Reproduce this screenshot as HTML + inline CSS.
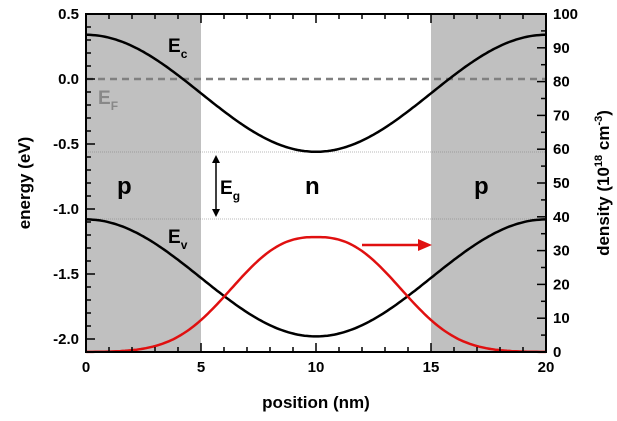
<!DOCTYPE html><html><head><style>body{margin:0;background:#fff}svg text{font-family:"Liberation Sans",Arial,sans-serif;font-weight:bold}</style></head><body>
<svg id="s" width="617" height="416" xmlns="http://www.w3.org/2000/svg">
<rect x="86" y="14" width="115" height="338" fill="#c0c0c0"/>
<rect x="431" y="14" width="115" height="338" fill="#c0c0c0"/>
<line x1="86" y1="152" x2="546" y2="152" stroke="#777" stroke-width="0.6" stroke-dasharray="1,1"/>
<line x1="86" y1="219" x2="546" y2="219" stroke="#777" stroke-width="0.6" stroke-dasharray="1,1"/>
<line x1="86" y1="79" x2="546" y2="79" stroke="#808080" stroke-width="2.5" stroke-dasharray="7,5"/>
<path id="ec" fill="none" stroke="#000" stroke-width="2.5"/>
<path id="ev" fill="none" stroke="#000" stroke-width="2.5"/>
<path id="rd" fill="none" stroke="#e01010" stroke-width="2.5"/>
<g id="ax" stroke="#000" stroke-width="1.5"></g>
<rect x="86" y="14" width="460" height="338" fill="none" stroke="#000" stroke-width="2"/>
<line x1="362" y1="245" x2="422" y2="245" stroke="#e01010" stroke-width="2.5"/>
<polygon points="432,245 418,239 418,251" fill="#e01010"/>
<line x1="216" y1="160" x2="216" y2="212" stroke="#000" stroke-width="1.5"/>
<polygon points="216,155 212,163 220,163" fill="#000"/><polygon points="216,217 212,209 220,209" fill="#000"/>
<text x="168" y="52" font-size="19">E<tspan font-size="12" dy="6">c</tspan></text>
<text x="98" y="104" font-size="19" fill="#888">E<tspan font-size="12" dy="6">F</tspan></text>
<text x="168" y="243" font-size="19">E<tspan font-size="12" dy="6">v</tspan></text>
<text x="220" y="194" font-size="19">E<tspan font-size="12" dy="6">g</tspan></text>
<text x="117" y="194" font-size="24">p</text><text x="474" y="194" font-size="24">p</text><text x="305" y="194" font-size="24">n</text>
<g id="lb" font-size="15"></g>
<text x="316" y="408" font-size="17" text-anchor="middle">position (nm)</text>
<text transform="translate(30,183) rotate(-90)" font-size="17" text-anchor="middle">energy (eV)</text>
<text transform="translate(609,183) rotate(-90)" font-size="17" text-anchor="middle">density (10<tspan font-size="11" dy="-7">18</tspan><tspan dy="7"> cm</tspan><tspan font-size="11" dy="-7">-3</tspan><tspan dy="7">)</tspan></text>
</svg>
<script>
var X=x=>86+x*23,Y=e=>79-e*130,D=d=>352-d*3.38;
var a='',b='',c='';
for(var i=0;i<=200;i++){var x=i/10,e=-0.11+0.45*Math.cos(2*Math.PI*x/20),d=34*Math.exp(-Math.pow(Math.abs(x-10)/4.53,2.5));
a+=(i?'L':'M')+X(x).toFixed(1)+','+Y(e).toFixed(1);b+=(i?'L':'M')+X(x).toFixed(1)+','+Y(e-1.42).toFixed(1);c+=(i?'L':'M')+X(x).toFixed(1)+','+D(d).toFixed(1);}
document.getElementById('ec').setAttribute('d',a);document.getElementById('ev').setAttribute('d',b);document.getElementById('rd').setAttribute('d',c);
var g='',l='';
for(var x=0;x<=20;x++){var L=x%5?5:9;g+='<line x1="'+X(x)+'" y1="352" x2="'+X(x)+'" y2="'+(352-L)+'"/><line x1="'+X(x)+'" y1="14" x2="'+X(x)+'" y2="'+(14+L)+'"/>';if(x%5==0)l+='<text x="'+X(x)+'" y="372" text-anchor="middle">'+x+'</text>';}
for(var k=0;k<=26;k++){var e=0.5-k*0.1,y=Y(e);if(y>352.5)break;var L=k%5?5:9;g+='<line x1="86" y1="'+y+'" x2="'+(86+L)+'" y2="'+y+'"/>';if(k%5==0)l+='<text x="79" y="'+(y+5)+'" text-anchor="end">'+e.toFixed(1).replace('-0.0','0.0')+'</text>';}
for(var d=0;d<=100;d+=5){var y=D(d),L=d%10?5:9;g+='<line x1="546" y1="'+y+'" x2="'+(546-L)+'" y2="'+y+'"/>';if(d%10==0)l+='<text x="553" y="'+(y+5)+'">'+d+'</text>';}
document.getElementById('ax').innerHTML=g;document.getElementById('lb').innerHTML=l;
</script></body></html>
